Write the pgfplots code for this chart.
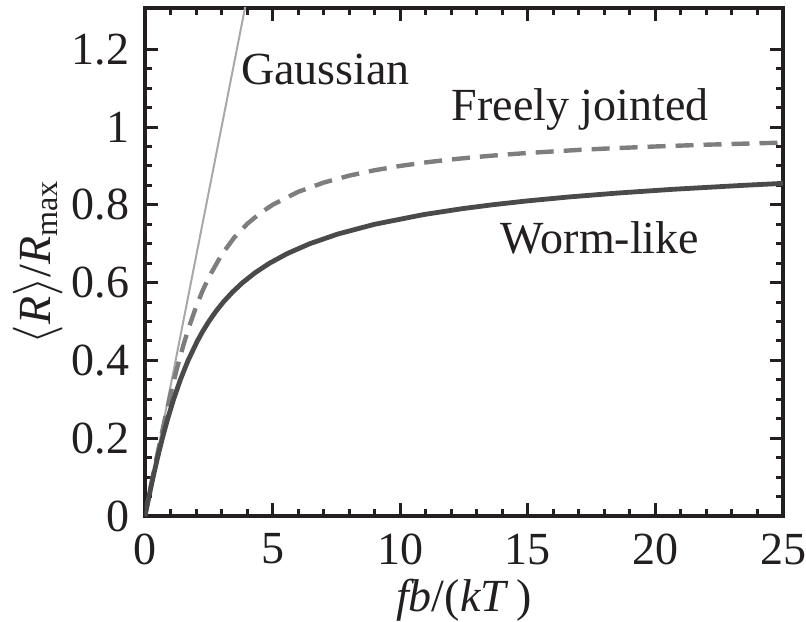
\documentclass[border=0pt]{standalone}
\usepackage{fontspec}
\setmainfont{Liberation Serif}
\usepackage{pgfplots}
\pgfplotsset{compat=1.18}

\definecolor{inkblack}{HTML}{231F20}
\definecolor{gausscol}{HTML}{A8A8A8}
\definecolor{fjccol}{HTML}{7E7E7E}
\definecolor{wlccol}{HTML}{4A4A4A}

% Freely jointed chain: Langevin function
\pgfplotstableread{
x      y
0      0
0.25   0.08299
0.5    0.16395
0.75   0.24110
1      0.31304
1.25   0.37885
1.5    0.43812
1.75   0.49085
2      0.53731
2.25   0.57802
2.5    0.61357
3      0.67164
3.5    0.71611
4      0.75067
4.5    0.77802
5      0.80009
6      0.83335
7      0.85714
8      0.87500
9      0.88889
10     0.90000
11     0.90909
12     0.91667
13     0.92308
14     0.92857
15     0.93333
17     0.94118
18     0.94444
20     0.95000
22     0.95455
25     0.96000
}\fjctable

% Worm-like chain (interpolation formula, b = 2P)
\pgfplotstableread{
x        y
0        0
0.1540   0.05
0.3173   0.10
0.4920   0.15
0.6813   0.20
0.8889   0.25
1.1204   0.30
1.3834   0.35
1.6889   0.40
2.0529   0.45
2.2641   0.475
2.5000   0.50
2.7661   0.525
3.0691   0.55
3.4182   0.575
3.8250   0.60
4.3056   0.625
4.8816   0.65
5.5837   0.675
6.4556   0.70
7.5616   0.725
9.0000   0.75
10.9265  0.775
12.4179  0.79
13.6000  0.80
14.9704  0.81
16.5720  0.82
18.4610  0.83
20.7110  0.84
23.4220  0.85
25.0000  0.8552
}\wlctable

\begin{document}
\fontsize{23}{27}\selectfont
\begin{tikzpicture}
\begin{axis}[
  name=ax,
  scale only axis,
  width=319pt, height=254pt,
  xmin=0, xmax=25, ymin=0, ymax=1.306,
  xtick={0,5,...,25},
  ytick={0,0.2,...,1.2},
  yticklabels={0,0.2,0.4,0.6,0.8,1,1.2},
  minor x tick num=4,
  minor y tick num=3,
  tick align=inside,
  major tick length=6.5pt,
  minor tick length=3.5pt,
  axis line style={inkblack, line width=1.7pt},
  every tick/.style={inkblack, line width=1.5pt},
  tick label style={inkblack, font=\fontsize{23}{27}\selectfont},
  /pgf/number format/assume math mode=true,
  xticklabel style={yshift=-1pt},
  clip=true,
  xlabel={\textit{fb}/(\textit{kT}\,)},
  ylabel={$\langle$\textit{R}$\rangle$/\textit{R}\textsubscript{max}},
  label style={inkblack, font=\fontsize{23}{27}\selectfont},
  xlabel style={at={(axis description cs:0.5,-0.1654)}, anchor=center},
  ylabel style={at={(axis description cs:-0.1677,0.5)}, anchor=center},
]
  % Gaussian chain: linear response
  \addplot[gausscol, line width=1pt] coordinates {(0,0) (4.2,1.4)};
  % Freely jointed chain
  \addplot[fjccol, line width=2.2pt, dash pattern=on 9pt off 5pt] table[x=x,y=y] {\fjctable};
  % Worm-like chain
  \addplot[wlccol, line width=2.4pt] table[x=x,y=y] {\wlctable};

  \node[inkblack, anchor=west, inner sep=0pt] at (axis cs:3.75,1.147) {Gaussian};
  \node[inkblack] at (axis cs:17.05,1.044) {Freely jointed};
  \node[inkblack] at (axis cs:17.83,0.715) {Worm-like};
\end{axis}
\pgfresetboundingbox
\path ([shift={(-72.5pt,-52.5pt)}]ax.south west) rectangle ([shift={(11.5pt,4pt)}]ax.north east);
\end{tikzpicture}
\end{document}
